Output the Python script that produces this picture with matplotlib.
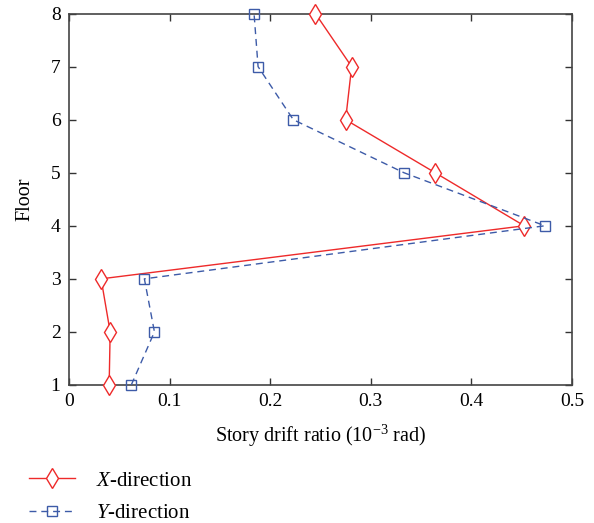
import matplotlib
matplotlib.use("Agg")
import matplotlib.pyplot as plt

plt.rcParams['font.family'] = ['Liberation Serif', 'DejaVu Serif']
plt.rcParams['mathtext.fontset'] = 'custom'
plt.rcParams['mathtext.rm'] = 'Liberation Serif'
plt.rcParams['mathtext.it'] = 'Liberation Serif:italic'

# data
floors = [1, 2, 3, 4, 5, 6, 7, 8]
x_dir = [0.040, 0.041, 0.032, 0.4525, 0.364, 0.275, 0.281, 0.245]
y_dir = [0.062, 0.085, 0.075, 0.473, 0.333, 0.223, 0.188, 0.184]

red = '#ee2a2a'
blue = '#3d5ba8'

fig = plt.figure(figsize=(5.94, 5.23), dpi=100)
ax = fig.add_axes([0.116, 0.264, 0.847, 0.710])

lx, = ax.plot(x_dir, floors, color=red, lw=1.0, marker='d', markersize=10,
              markerfacecolor='white', markeredgecolor=red, markeredgewidth=1.0,
              label='$\\it{X}$-direction', clip_on=False, zorder=3)
ly, = ax.plot(y_dir, floors, color=blue, lw=1.0, ls=(0, (5, 3.5)), marker='s',
              markersize=7, markerfacecolor='none', markeredgecolor=blue,
              markeredgewidth=1.0, label='$\\it{Y}$-direction', clip_on=False, zorder=3)

ax.set_xlim(0, 0.5)
ax.set_ylim(1, 8)
ax.set_xticks([0, 0.1, 0.2, 0.3, 0.4, 0.5])
ax.set_xticklabels(['0', '0.1', '0.2', '0.3', '0.4', '0.5'])
ax.set_yticks(floors)
ax.tick_params(direction='in', top=True, right=True, length=5, width=1,
               labelsize=14, pad=6, color='#333333')
for s in ax.spines.values():
    s.set_linewidth(1.2)
    s.set_color('#444444')

ax.set_xlabel('Story drift ratio (10$^{-3}$ rad)', fontsize=14.5, labelpad=9)
ax.set_ylabel('Floor', fontsize=14.5, labelpad=12)

fig.legend(handles=[lx, ly], loc='upper left', bbox_to_anchor=(0.035, 0.115),
           frameon=False, fontsize=15, handlelength=2.2, handletextpad=1.0,
           labelspacing=0.6, borderaxespad=0)

fig.savefig('out.png', dpi=100)
